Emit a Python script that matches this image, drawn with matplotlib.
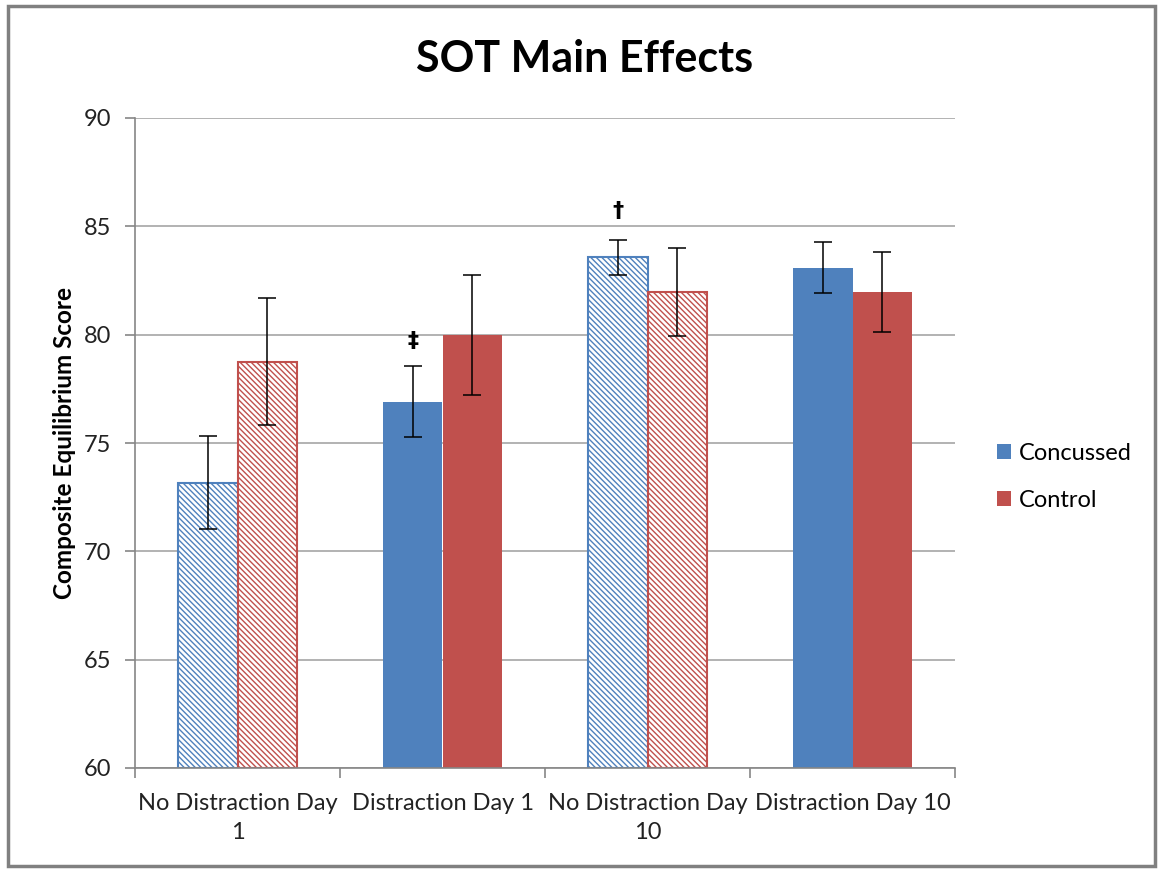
import matplotlib
matplotlib.use("Agg")
import matplotlib.pyplot as plt
from matplotlib.patches import Rectangle, Patch
import numpy as np

plt.rcParams["font.family"] = ["Lato", "DejaVu Sans"]
plt.rcParams["hatch.linewidth"] = 1.0

categories = ["No Distraction Day\n1", "Distraction Day 1",
              "No Distraction Day\n10", "Distraction Day 10"]
concussed = [73.17, 76.91, 83.57, 83.09]
concussed_err = [2.15, 1.65, 0.80, 1.18]
control = [78.75, 79.99, 81.98, 81.96]
control_err = [2.93, 2.78, 2.03, 1.84]
hatched = [True, False, True, False]
markers = ["", "\u2021", "\u2020", ""]
marker_y = [0, 79.7, 85.7, 0]

blue = "#4F81BD"
red = "#C0504D"

fig = plt.figure(figsize=(11.6, 8.69), dpi=100)
ax = fig.add_axes([135 / 1160, 101 / 869, 820 / 1160, 650 / 869])

x = np.arange(len(categories))
w = 0.29
for i in range(len(categories)):
    for xs, val, err, col in [(x[i] - w / 2, concussed[i], concussed_err[i], blue),
                              (x[i] + w / 2, control[i], control_err[i], red)]:
        if hatched[i]:
            ax.bar(xs, val - 60, w, bottom=60, color="white", edgecolor=col,
                   hatch="\\" * 6, linewidth=1.5, zorder=2)
        else:
            ax.bar(xs, val - 60, w, bottom=60, color=col, zorder=2)
        ax.errorbar(xs, val, yerr=err, fmt="none", ecolor="black",
                    elinewidth=1.1, capsize=6.5, capthick=1.1, zorder=3)
    if markers[i]:
        ax.text(x[i] - w / 2, marker_y[i], markers[i], ha="center", va="center",
                fontsize=16, fontweight="bold", family=["DejaVu Sans"])

ax.set_ylim(60, 90)
ax.set_xlim(-0.5, 3.5)
ax.set_yticks(range(60, 91, 5))
ax.yaxis.grid(True, color="#a6a6a6", linewidth=1.2)
ax.set_axisbelow(True)
ax.set_xticks(np.arange(-0.5, 4, 1))
ax.set_xticklabels([])
ax.set_xticks(x, minor=True)
ax.set_xticklabels(categories, minor=True, fontsize=17, color="#222222",
                   linespacing=1.45)
ax.tick_params(axis="x", which="minor", length=0, pad=18)
ax.tick_params(axis="x", which="major", length=7, color="#868686", width=1.2)
ax.tick_params(axis="y", length=7, color="#868686", width=1.2, labelsize=17,
               labelcolor="#222222", pad=10)
for s in ["top", "right"]:
    ax.spines[s].set_visible(False)
for s in ["left", "bottom"]:
    ax.spines[s].set_color("#868686")
    ax.spines[s].set_linewidth(1.2)

ax.set_ylabel("Composite Equilibrium Score", fontsize=17.5, fontweight="bold",
              labelpad=6)
fig.text(585 / 1160, 1 - 59 / 869, "SOT Main Effects", ha="center", va="center",
         fontsize=31, fontweight="bold")

handles = [Patch(facecolor=blue, label="Concussed"),
           Patch(facecolor=red, label="Control")]
fig.legend(handles=handles, loc="center left", bbox_to_anchor=(976 / 1160, 1 - 477 / 869),
           frameon=False, fontsize=17, handlelength=0.6, handleheight=0.6,
           handletextpad=0.3, labelspacing=1.1)

fig.patches.append(Rectangle((8 / 1160, 3 / 869), 1147 / 1160, 860 / 869,
                             transform=fig.transFigure, fill=False,
                             edgecolor="#808080", linewidth=2.5))

fig.savefig("out.png", dpi=100)
